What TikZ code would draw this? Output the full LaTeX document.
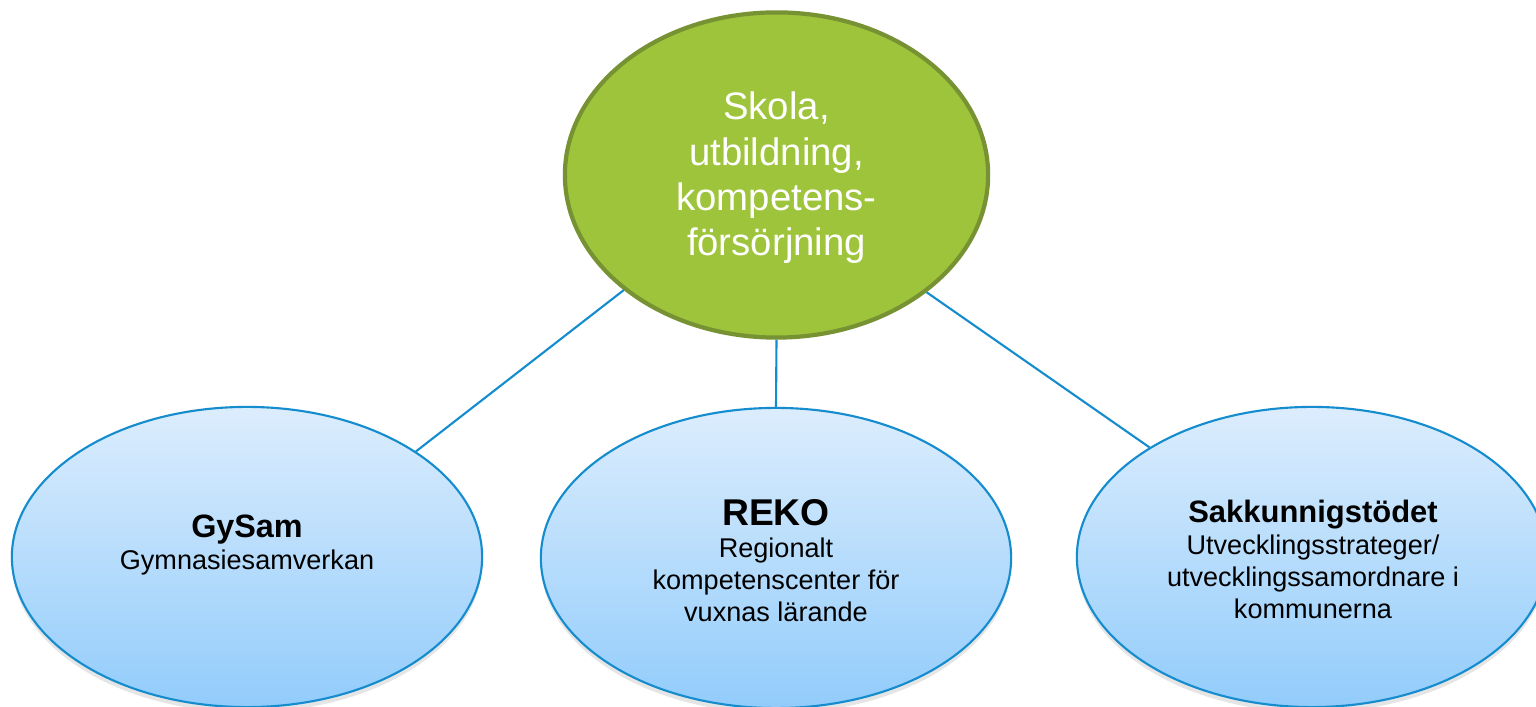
\documentclass[tikz,border=0pt]{standalone}
\usepackage{fontspec}
\setmainfont{Liberation Sans}
\usetikzlibrary{shapes.geometric,shadows}
\definecolor{topgreen}{RGB}{158,196,59}
\definecolor{topedge}{RGB}{118,146,50}
\definecolor{blueedge}{RGB}{20,140,205}
\definecolor{lightblue}{RGB}{220,237,253}
\definecolor{deepblue}{RGB}{146,204,251}
\tikzset{
  mainell/.style={ellipse, draw=topedge, line width=1.2pt, fill=topgreen,
    minimum width=4.23cm, minimum height=3.25cm, inner sep=0pt,
    text=white, align=center, font=\fontsize{10.9pt}{12.9pt}\selectfont},
  subell/.style={ellipse, draw=blueedge, line width=0.6pt,
    top color=lightblue, bottom color=deepblue,
    minimum width=4.70cm, minimum height=3.0cm, inner sep=0pt,
    drop shadow={shadow xshift=0pt, shadow yshift=-1.5pt, opacity=0.2}},
  subtext/.style={align=center, text=black, font=\fontsize{7.7pt}{9.1pt}\selectfont},
  conn/.style={draw=blueedge, line width=0.6pt}
}
\begin{document}
\begin{tikzpicture}[x=0.01cm,y=-0.01cm]
\useasboundingbox (0,0) rectangle (1536,707);
\clip (0,0) rectangle (1536,707);
\fill[white] (0,0) rectangle (1536,707);
\node[mainell] (top) at (776.5,175) {};
\node[text=white, align=center, font=\fontsize{10.9pt}{12.9pt}\selectfont] (toptxt) at (776.5,178) {Skola,\\utbildning,\\kompetens-\\försörjning};
\node[subell] (left) at (247,557) {};
\node[subell] (mid) at (776,558) {};
\node[subell] (right) at (1312,557) {};
\draw[conn] (top.217.3) -- (left.32.6);
\draw[conn] (top.south) -- (mid.north);
\draw[conn] (top.322.5) -- (right.146.9);
\node[subtext] (lefttxt) at (247,545) {{\fontsize{9.2pt}{11pt}\selectfont\bfseries GySam}\\Gymnasiesamverkan};
\node[subtext] (midtxt) at (776,561) {{\fontsize{10.6pt}{12pt}\selectfont\bfseries REKO}\\Regionalt\\kompetenscenter för\\vuxnas lärande};
\node[subtext] (righttxt) at (1313,559) {{\fontsize{8.8pt}{10.5pt}\selectfont\bfseries Sakkunnigstödet}\\Utvecklingsstrateger/\\utvecklingssamordnare i\\kommunerna};
\end{tikzpicture}
\end{document}
